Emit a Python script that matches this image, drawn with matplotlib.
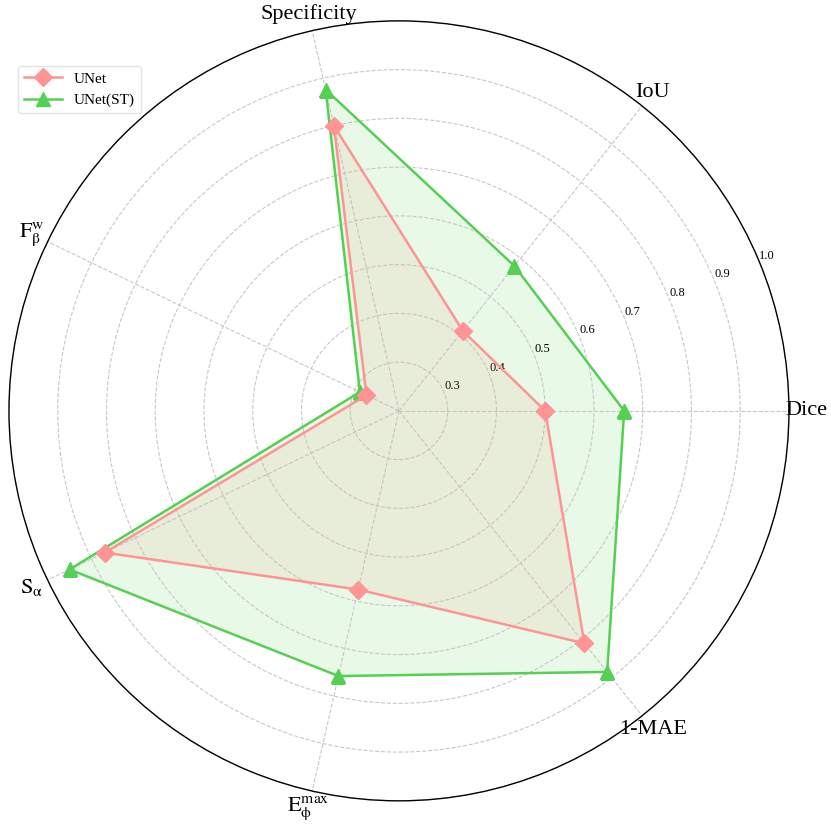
import numpy as np
import matplotlib
matplotlib.use("Agg")
import matplotlib.pyplot as plt

plt.rcParams['font.family'] = ['Liberation Serif', 'DejaVu Serif']
plt.rcParams['mathtext.fontset'] = 'stix'

categories = ['Dice', 'IoU', 'Specificity', r'$\mathrm{F}_{\mathrm{\beta}}^{\mathrm{w}}$',
              r'$\mathrm{S}_{\mathrm{\alpha}}$', r'$\mathrm{E}_{\mathrm{\phi}}^{\mathrm{max}}$', '1-MAE']
unet = [0.50, 0.41, 0.80, 0.274, 0.87, 0.576, 0.81]
unet_st = [0.662, 0.58, 0.876, 0.289, 0.95, 0.758, 0.885]
rticks = [0.3, 0.4, 0.5, 0.6, 0.7, 0.8, 0.9, 1.0]
rlabels = ['0.3', '0.4', '0.5', '0.6', '0.7', '0.8', '0.9', '1.0']

n = len(categories)
angles = np.linspace(0, 2 * np.pi, n, endpoint=False)
ang_c = np.concatenate([angles, angles[:1]])

fig = plt.figure(figsize=(8.31, 8.30), dpi=100)
ax = fig.add_axes([0.0108, 0.035, 0.9386, 0.94], polar=True)

red = '#ff9494'
green = '#55d055'

ax.plot(ang_c, np.r_[unet_st, unet_st[:1]], color=green, lw=1.8, marker='^', ms=10,
        label='UNet(ST)', zorder=3)
ax.fill(ang_c, np.r_[unet_st, unet_st[:1]], color='#5cd65c', alpha=0.14, zorder=1)
ax.plot(ang_c, np.r_[unet, unet[:1]], color=red, lw=1.8, marker='D', ms=9,
        label='UNet', zorder=4)
ax.fill(ang_c, np.r_[unet, unet[:1]], color='#e89a7a', alpha=0.12, zorder=2)

ax.set_ylim(0.2, 1.0)
ax.set_yticks(rticks)
ax.set_yticklabels(rlabels, fontsize=9)
ax.set_rlabel_position(22.5)
ax.set_xticks(angles)
ax.set_xticklabels(categories, fontsize=16)
ax.tick_params(axis='x', pad=2)
ax.grid(True, color='#c8c8c8', linestyle='--', linewidth=0.8)
ax.spines['polar'].set_color('black')
ax.spines['polar'].set_linewidth(1.0)

handles, labels = ax.get_legend_handles_labels()
leg = fig.legend(handles[::-1], labels[::-1], loc='upper left', bbox_to_anchor=(0.012, 0.93),
                 fontsize=11, frameon=True, handlelength=2.5)
leg.get_frame().set_edgecolor('#dddddd')

fig.savefig('out.png', dpi=100)
